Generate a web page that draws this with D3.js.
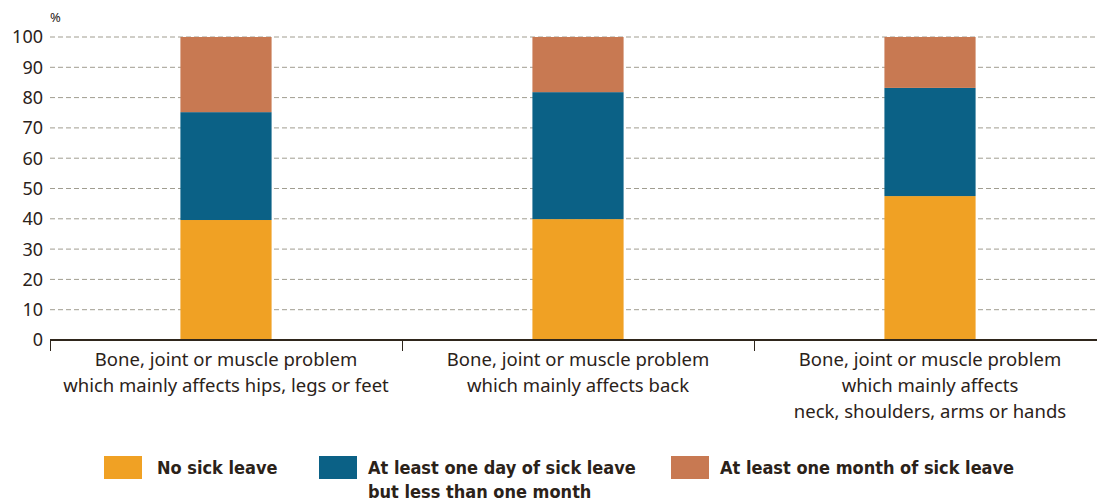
<!DOCTYPE html>
<html>
<head>
<meta charset="utf-8">
<script src="https://cdn.jsdelivr.net/npm/d3@7"></script>
<style>
  body { margin: 0; background: #fff; }
  svg { display: block; }
  .tick-label { font-family: "Noto Sans", sans-serif; font-size: 18px; fill: #2b2219; }
  .cat-label { font-family: "Noto Sans", sans-serif; font-size: 18.5px; fill: #2b2219; }
  .legend-label { font-family: "Liberation Sans Narrow", "DejaVu Sans Condensed", sans-serif; font-weight: bold; font-size: 18px; fill: #2b2219; }
</style>
</head>
<body>
<div id="chart"></div>
<script>
var categories = [
  ["Bone, joint or muscle problem", "which mainly affects hips, legs or feet"],
  ["Bone, joint or muscle problem", "which mainly affects back"],
  ["Bone, joint or muscle problem", "which mainly affects", "neck, shoulders, arms or hands"]
];
var seriesNames = [
  ["No sick leave"],
  ["At least one day of sick leave", "but less than one month"],
  ["At least one month of sick leave"]
];
var noLeave   = [39.6, 39.9, 47.5];
var oneDay    = [35.6, 41.9, 35.7];
var oneMonth  = [24.8, 18.2, 16.8];
var yTicks = [0, 10, 20, 30, 40, 50, 60, 70, 80, 90, 100];
var colors = ["#f0a124", "#0b6186", "#c87952"];

var graphD = { width: 1097, height: 501, left: 50, right: 1106, top: 37, bottom: 340 };

var svg = d3.select("#chart").append("svg")
            .attr("width", graphD.width)
            .attr("height", graphD.height);

var yScale = d3.scaleLinear().domain([0, 100]).range([graphD.bottom, graphD.top]);
var xScale = d3.scaleBand().domain(d3.range(categories.length))
               .range([graphD.left, graphD.right])
               .paddingInner(0.741).paddingOuter(0.3705);
var step = xScale.step();

// gridlines
svg.append("g").selectAll("line")
   .data(yTicks.filter(function(d){ return d > 0; }))
   .enter().append("line")
   .attr("x1", graphD.left).attr("x2", graphD.width)
   .attr("y1", function(d){ return yScale(d); })
   .attr("y2", function(d){ return yScale(d); })
   .attr("stroke", "#a09d90").attr("stroke-width", 1)
   .attr("stroke-dasharray", "5,3");

// y labels
svg.append("g").selectAll("text")
   .data(yTicks).enter().append("text")
   .attr("class", "tick-label")
   .attr("x", 43)
   .attr("y", function(d){ return yScale(d); })
   .attr("dy", "0.36em")
   .attr("text-anchor", "end")
   .text(function(d){ return d; });

svg.append("text").attr("class", "tick-label")
   .attr("x", 50).attr("y", 22).style("font-size", "13px").text("%");

// stacked bars
var stackData = categories.map(function(c, i){ return { i: i, a: noLeave[i], b: oneDay[i], c: oneMonth[i] }; });
var stack = d3.stack().keys(["a", "b", "c"])(stackData);

svg.append("g").selectAll("g")
   .data(stack).enter().append("g")
   .attr("fill", function(d, k){ return colors[k]; })
   .selectAll("rect")
   .data(function(d){ return d; })
   .enter().append("rect")
   .attr("x", function(d){ return xScale(d.data.i); })
   .attr("width", xScale.bandwidth())
   .attr("y", function(d){ return yScale(d[1]); })
   .attr("height", function(d){ return yScale(d[0]) - yScale(d[1]); });

// x axis
svg.append("line")
   .attr("x1", graphD.left).attr("x2", graphD.width)
   .attr("y1", graphD.bottom).attr("y2", graphD.bottom)
   .attr("stroke", "#2f261c").attr("stroke-width", 2);

svg.append("g").selectAll("line")
   .data(d3.range(categories.length)).enter().append("line")
   .attr("x1", function(d){ return Math.round(graphD.left + d * step) + 0.5; })
   .attr("x2", function(d){ return Math.round(graphD.left + d * step) + 0.5; })
   .attr("y1", graphD.bottom).attr("y2", graphD.bottom + 11)
   .attr("stroke", "#2f261c").attr("stroke-width", 1);

var catG = svg.append("g").selectAll("text")
   .data(categories).enter().append("text")
   .attr("class", "cat-label")
   .attr("text-anchor", "middle")
   .attr("x", function(d, i){ return xScale(i) + xScale.bandwidth() / 2; })
   .attr("y", 366);
catG.selectAll("tspan")
   .data(function(d){ return d; })
   .enter().append("tspan")
   .attr("x", function(){ return d3.select(this.parentNode).attr("x"); })
   .attr("dy", function(d, j){ return j === 0 ? 0 : 26; })
   .text(function(d){ return d; });

// legend
var legendX = [104, 319, 671];
var leg = svg.append("g").selectAll("g")
   .data(seriesNames).enter().append("g")
   .attr("transform", function(d, i){ return "translate(" + legendX[i] + ",456)"; });
leg.append("rect").attr("width", 38).attr("height", 23)
   .attr("fill", function(d, i){ return colors[i]; });
var legText = leg.append("text").attr("class", "legend-label")
   .attr("x", function(d, i){ return [53, 49, 49][i]; })
   .attr("y", 18);
legText.selectAll("tspan")
   .data(function(d){ return d; })
   .enter().append("tspan")
   .attr("x", function(){ return d3.select(this.parentNode).attr("x"); })
   .attr("dy", function(d, j){ return j === 0 ? 0 : 24; })
   .text(function(d){ return d; });
</script>
</body>
</html>
